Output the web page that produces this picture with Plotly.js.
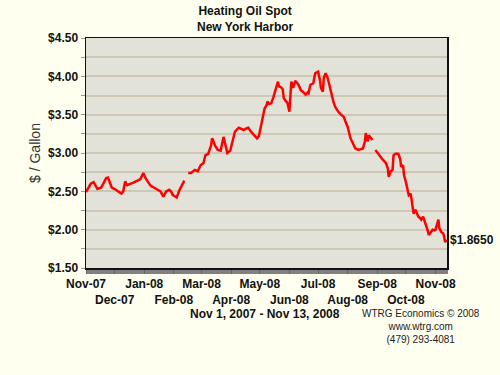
<!DOCTYPE html>
<html>
<head>
<meta charset="utf-8">
<script src="https://cdn.plot.ly/plotly-3.0.1.min.js"></script>
<style>html,body{margin:0;padding:0;background:#fffff0;}#chart{width:500px;height:375px;}</style>
</head>
<body>
<div id="chart"></div>
<script>
// Heating oil spot price, New York Harbor ($/gallon)
const dates = [
"2007-11-01","2007-11-03","2007-11-06","2007-11-09","2007-11-13","2007-11-17","2007-11-20","2007-11-22","2007-11-24","2007-11-26",
"2007-11-28","2007-12-01","2007-12-05","2007-12-08","2007-12-10","2007-12-12","2007-12-14","2007-12-17","2007-12-20","2007-12-25",
"2007-12-28","2007-12-31","2008-01-02","2008-01-05","2008-01-08","2008-01-11","2008-01-15","2008-01-18","2008-01-21","2008-01-24",
"2008-01-27","2008-01-29","2008-01-31","2008-02-04","2008-02-07","2008-02-10","2008-02-12","2008-02-14","2008-02-16","2008-02-19",
"2008-02-23","2008-02-26","2008-02-29","2008-03-03","2008-03-05","2008-03-08","2008-03-11","2008-03-12","2008-03-13","2008-03-15",
"2008-03-18","2008-03-21","2008-03-24","2008-03-26","2008-03-28","2008-03-31","2008-04-03","2008-04-05","2008-04-09","2008-04-12",
"2008-04-14","2008-04-17","2008-04-19","2008-04-21","2008-04-23","2008-04-25","2008-04-28","2008-04-30","2008-05-02","2008-05-04",
"2008-05-06","2008-05-08","2008-05-09","2008-05-11","2008-05-13","2008-05-15","2008-05-17","2008-05-20","2008-05-21","2008-05-23",
"2008-05-25","2008-05-26","2008-05-28","2008-05-30","2008-06-01","2008-06-03","2008-06-05","2008-06-07","2008-06-10","2008-06-11",
"2008-06-13","2008-06-15","2008-06-17","2008-06-18","2008-06-20","2008-06-21","2008-06-23","2008-06-25","2008-06-26","2008-06-28",
"2008-07-01","2008-07-03","2008-07-04","2008-07-06","2008-07-07","2008-07-09","2008-07-11","2008-07-13","2008-07-14","2008-07-17",
"2008-07-19","2008-07-22","2008-07-25","2008-07-28","2008-07-30","2008-08-01","2008-08-04","2008-08-07","2008-08-09","2008-08-12",
"2008-08-14","2008-08-17","2008-08-19","2008-08-20","2008-08-22","2008-08-23","2008-08-25","2008-08-27","2008-08-29","2008-08-30",
"2008-09-03","2008-09-05","2008-09-07","2008-09-10","2008-09-12","2008-09-13","2008-09-15","2008-09-17","2008-09-18","2008-09-20",
"2008-09-23","2008-09-25","2008-09-26","2008-09-28","2008-09-29","2008-10-01","2008-10-03","2008-10-04","2008-10-06","2008-10-08",
"2008-10-09","2008-10-11","2008-10-14","2008-10-16","2008-10-17","2008-10-19","2008-10-21","2008-10-22","2008-10-24","2008-10-25",
"2008-10-27","2008-10-29","2008-10-31","2008-11-01","2008-11-04","2008-11-05","2008-11-07","2008-11-09","2008-11-10","2008-11-11",
"2008-11-13"
];
const prices = [
2.49,2.53,2.60,2.62,2.53,2.55,2.62,2.67,2.68,2.62,
2.55,2.53,2.50,2.47,2.50,2.63,2.58,2.60,2.61,2.64,
2.66,2.74,2.68,2.62,2.57,2.55,2.52,2.50,2.43,2.50,
2.52,2.50,2.45,2.42,2.52,2.60,2.64,null,2.74,2.74,
2.78,2.76,2.84,2.87,2.97,2.99,3.10,3.19,3.17,3.10,
3.04,3.03,3.21,3.10,3.00,3.03,3.17,3.28,3.33,3.31,
3.30,3.32,3.33,3.29,3.26,3.22,3.19,3.22,3.35,3.46,
3.58,3.62,3.67,3.64,3.65,3.72,3.82,3.93,3.87,3.86,
3.83,3.72,3.68,3.65,3.54,3.93,3.85,3.94,3.90,3.87,
3.82,3.80,3.77,3.76,3.79,3.78,3.89,3.90,3.91,4.04,
4.06,3.95,3.85,3.80,3.98,4.04,3.98,3.88,3.82,3.67,
3.60,3.54,3.50,3.47,3.40,3.34,3.19,3.10,3.06,3.04,
3.05,3.06,3.15,3.26,3.15,3.23,3.20,3.17,null,3.04,
2.97,2.95,2.91,2.87,2.80,2.69,2.76,2.78,2.97,2.99,
2.99,2.92,2.82,2.84,2.71,2.62,2.52,2.45,2.47,2.30,
2.21,2.26,2.17,2.15,2.13,2.17,2.10,2.06,1.98,1.93,
1.97,2.00,1.99,2.00,2.13,2.02,1.97,1.95,1.91,1.84,
1.865
];
const monthTicks = ["2007-11-01","2007-12-01","2008-01-01","2008-02-01","2008-03-01","2008-04-01","2008-05-01",
                    "2008-06-01","2008-07-01","2008-08-01","2008-09-01","2008-10-01","2008-11-01"];
const monthLabels = ["Nov-07","Dec-07","Jan-08","Feb-08","Mar-08","Apr-08","May-08",
                     "Jun-08","Jul-08","Aug-08","Sep-08","Oct-08","Nov-08"];
const yTickVals = [1.5,1.75,2.0,2.25,2.5,2.75,3.0,3.25,3.5,3.75,4.0,4.25,4.5];
const yTickText = ["$1.50","","$2.00","","$2.50","","$3.00","","$3.50","","$4.00","","$4.50"];
const lastLabel = "$1.8650";

const FONT = "Liberation Sans, Arial, sans-serif";
const xText = monthLabels.map((t, i) => i % 2 === 0 ? "<b>" + t + "</b>" : "<br><b>" + t + "</b>");
const yText = yTickText.map(t => t ? "<b>" + t + "</b>" : "");

const trace = {
  x: dates, y: prices, type: "scatter", mode: "lines",
  line: {color: "#ff0000", width: 2.5},
  connectgaps: false, hoverinfo: "skip"
};

const layout = {
  width: 500, height: 375,
  margin: {l: 86, r: 53, t: 38, b: 107},
  paper_bgcolor: "#fffff0",
  plot_bgcolor: "#e2e2d9",
  showlegend: false,
  font: {family: FONT, color: "#111"},
  xaxis: {
    type: "date",
    range: ["2007-11-01", "2008-11-13"],
    tickmode: "array", tickvals: monthTicks, ticktext: xText,
    tickangle: 0,
    tickfont: {family: FONT, size: 12, color: "#111"},
    ticks: "outside", ticklen: 4, tickcolor: "#666", tickwidth: 1,
    minor: {dtick: 86400000, ticks: "outside", ticklen: 4, tickcolor: "#808080", showgrid: false},
    showgrid: false, zeroline: false,
    showline: true, linecolor: "#111", linewidth: 1.5, mirror: true,
    fixedrange: true
  },
  yaxis: {
    range: [1.5, 4.5],
    tickmode: "array", tickvals: yTickVals, ticktext: yText,
    tickfont: {family: FONT, size: 12, color: "#111"},
    ticks: "outside", ticklen: 4, tickcolor: "#999",
    showgrid: true, gridcolor: "#cdc7b3", gridwidth: 2,
    zeroline: false,
    showline: true, linecolor: "#111", linewidth: 1.5, mirror: true,
    title: {text: "$ / Gallon", font: {family: FONT, size: 14, color: "#333"}, standoff: 4},
    fixedrange: true
  },
  annotations: [
    {text: "<b>Heating Oil Spot</b><br><b>New York Harbor</b>", xref: "paper", yref: "paper",
     x: 0.441, y: 1.083, xanchor: "center", yanchor: "middle", align: "center", showarrow: false,
     font: {family: FONT, size: 12, color: "#111"}},
    {text: "<b>Nov 1, 2007 - Nov 13, 2008</b>", xref: "paper", yref: "paper",
     x: 0.497, y: -0.2, xanchor: "center", yanchor: "middle", showarrow: false,
     font: {family: FONT, size: 12, color: "#111"}},
    {text: "WTRG Economics © 2008<br>www.wtrg.com<br>(479) 293-4081", xref: "paper", yref: "paper",
     x: 0.928, y: -0.165, xanchor: "center", yanchor: "top", align: "center", showarrow: false,
     font: {family: FONT, size: 10, color: "#222"}},
    {text: "<b>" + lastLabel + "</b>", xref: "paper", yref: "paper",
     x: 1.004, y: 0.122, xanchor: "left", yanchor: "middle", showarrow: false,
     font: {family: FONT, size: 12, color: "#111"}}
  ]
};

Plotly.newPlot("chart", [trace], layout, {displayModeBar: false, staticPlot: true});
</script>
</body>
</html>
